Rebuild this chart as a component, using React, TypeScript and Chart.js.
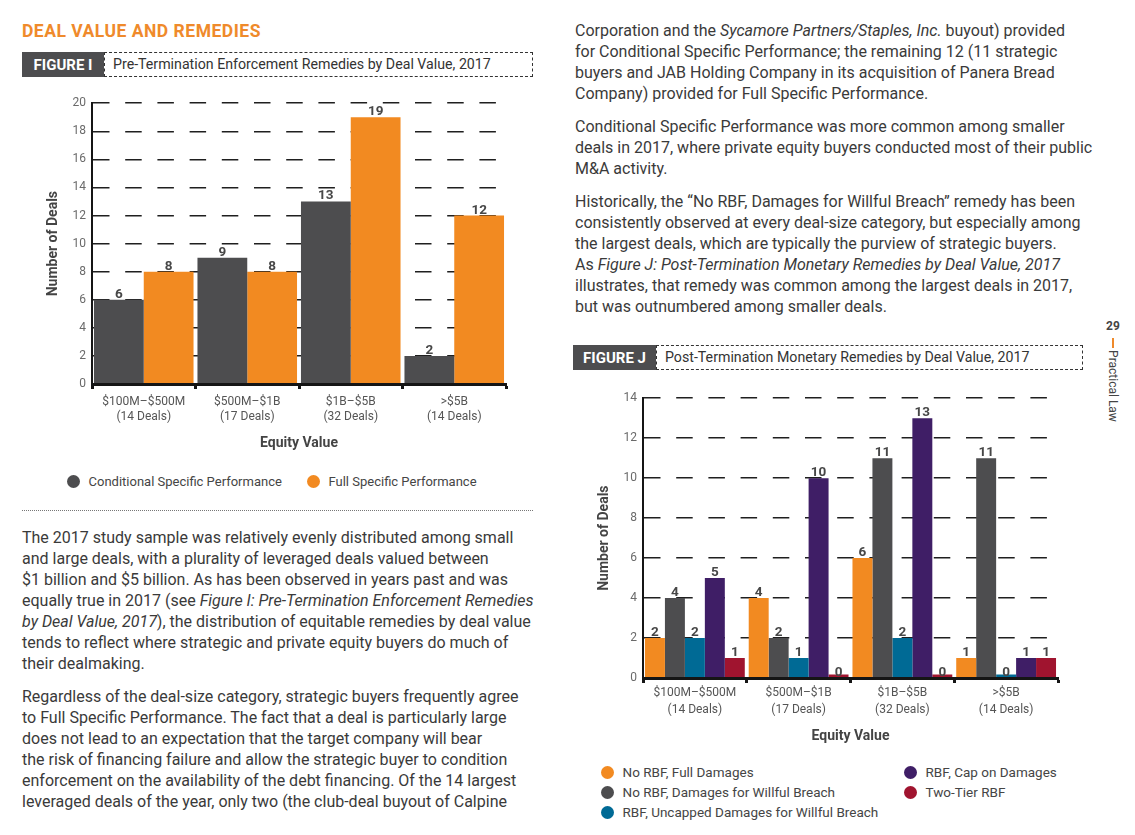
import React, { useEffect, useRef } from "react";
import { Chart, registerables } from "chart.js";

Chart.register(...registerables);

const FONT = "Roboto, 'Open Sans', sans-serif";

// ---------- DATA ----------
const figICategories = [
  ["$100M–$500M", "(14 Deals)"],
  ["$500M–$1B", "(17 Deals)"],
  ["$1B–$5B", "(32 Deals)"],
  [">$5B", "(14 Deals)"],
];
const figISeriesLabels = ["Conditional Specific Performance", "Full Specific Performance"];
const figIColors = ["#4d4d4f", "#f28a21"];
const figIConditional = [6, 9, 13, 2];
const figIFull = [8, 8, 19, 12];
const figIYMax = 20;
const figIYStep = 2;

const figJCategories = [
  ["$100M–$500M", "(14 Deals)"],
  ["$500M–$1B", "(17 Deals)"],
  ["$1B–$5B", "(32 Deals)"],
  [">$5B", "(14 Deals)"],
];
const figJSeriesLabels = [
  "No RBF, Full Damages",
  "No RBF, Damages for Willful Breach",
  "RBF, Uncapped Damages for Willful Breach",
  "RBF, Cap on Damages",
  "Two-Tier RBF",
];
const figJColors = ["#f28a21", "#4d4d4f", "#006a95", "#3f1e66", "#a0142f"];
const figJNoRbfFull = [2, 4, 6, 1];
const figJNoRbfWillful = [4, 2, 11, 11];
const figJRbfUncapped = [2, 1, 2, 0];
const figJRbfCap = [5, 10, 13, 1];
const figJTwoTier = [1, 0, 0, 1];
const figJYMax = 14;
const figJYStep = 2;

// ---------- CHART HELPERS ----------
const valueLabels = {
  id: "valueLabels",
  afterDatasetsDraw(chart: any) {
    const ctx = chart.ctx;
    const y = chart.scales.y;
    ctx.save();
    ctx.font = `bold 13.5px ${FONT}`;
    ctx.fillStyle = "#474747";
    ctx.textAlign = "center";
    ctx.textBaseline = "alphabetic";
    chart.data.datasets.forEach((ds: any, i: number) => {
      const meta = chart.getDatasetMeta(i);
      meta.data.forEach((el: any, j: number) => {
        const v = ds.data[j];
        ctx.fillText(String(v), el.x, y.getPixelForValue(v) - 2);
      });
    });
    ctx.restore();
  },
};

function makeConfig(
  categories: string[][],
  labels: string[],
  colors: string[],
  series: number[][],
  yMax: number,
  yStep: number,
  geom: { top: number; right: number; xHeight: number; tickPad: number; tickLH: number; titlePad: number }
): any {
  return {
    type: "bar",
    data: {
      labels: categories,
      datasets: series.map((d, i) => ({
        label: labels[i],
        data: d,
        backgroundColor: colors[i],
        borderWidth: 0,
        categoryPercentage: 0.962,
        barPercentage: 1,
        minBarLength: 3.5,
      })),
    },
    options: {
      responsive: false,
      animation: false,
      devicePixelRatio: 1,
      layout: { padding: { top: geom.top, right: geom.right, bottom: 0, left: 0 } },
      plugins: {
        legend: { display: false },
        tooltip: { enabled: false },
        title: { display: false },
      },
      scales: {
        x: {
          afterFit: (s: any) => {
            s.height = geom.xHeight;
          },
          border: { display: true, color: "#151515", width: 3, z: 1 },
          grid: {
            display: true,
            drawOnChartArea: false,
            drawTicks: true,
            tickLength: 5,
            tickWidth: 3,
            tickColor: "#151515",
            color: "#151515",
            offset: true,
          },
          ticks: {
            font: { family: FONT, size: 12, lineHeight: geom.tickLH },
            color: "#555555",
            padding: geom.tickPad,
            maxRotation: 0,
            autoSkip: false,
          },
          title: {
            display: true,
            text: "Equity Value",
            color: "#444444",
            font: { family: FONT, size: 14, weight: "bold" },
            padding: { top: 0, bottom: geom.titlePad },
          },
        },
        y: {
          min: 0,
          max: yMax,
          afterFit: (s: any) => {
            s.width = 70;
          },
          border: { display: true, color: "#151515", width: 2, dash: [16.5, 15.7] },
          grid: {
            color: "#1f1f1f",
            lineWidth: 1.5,
            drawTicks: false,
          },
          ticks: {
            stepSize: yStep,
            font: { family: FONT, size: 12 },
            color: "#6a6a6a",
            padding: 6,
          },
          title: {
            display: true,
            text: "Number of Deals",
            color: "#444444",
            font: { family: FONT, size: 14, weight: "bold" },
            padding: { top: 23, bottom: 0 },
          },
        },
      },
    },
    plugins: [valueLabels],
  };
}

function ChartCanvas(props: { left: number; top: number; width: number; height: number; config: any }) {
  const ref = useRef<HTMLCanvasElement | null>(null);
  useEffect(() => {
    if (!ref.current) return;
    const chart = new Chart(ref.current, props.config);
    return () => chart.destroy();
  }, []);
  return (
    <canvas
      ref={ref}
      width={props.width}
      height={props.height}
      style={{ position: "absolute", left: props.left, top: props.top, width: props.width, height: props.height }}
    />
  );
}

// ---------- PAGE PIECES ----------
function FigureHeader(p: { x: number; y: number; label: string; labelW: number; title: string; titleW: number }) {
  return (
    <>
      <div
        style={{
          position: "absolute",
          left: p.x,
          top: p.y,
          width: p.labelW,
          height: 25,
          background: "#4d4d4f",
          color: "#fff",
          font: `bold 15px ${FONT}`,
          display: "flex",
          alignItems: "center",
          justifyContent: "center",
        }}
      >
        {p.label}
      </div>
      <div
        style={{
          position: "absolute",
          left: p.x + p.labelW,
          top: p.y,
          width: p.titleW,
          height: 25,
          boxSizing: "border-box",
          border: "1px dashed #333",
          color: "#333",
          font: `14.2px ${FONT}`,
          lineHeight: "23px",
          paddingLeft: 8,
          whiteSpace: "nowrap",
        }}
      >
        {p.title}
      </div>
    </>
  );
}

function LegendItem(p: { x: number; y: number; color: string; text: string; size: number }) {
  return (
    <div
      style={{
        position: "absolute",
        left: p.x - 6.5,
        top: p.y - 10,
        height: 20,
        display: "flex",
        alignItems: "center",
        whiteSpace: "nowrap",
        font: `${p.size}px ${FONT}`,
        color: "#454545",
      }}
    >
      <span
        style={{
          display: "inline-block",
          width: 13,
          height: 13,
          borderRadius: "50%",
          background: p.color,
          marginRight: 9,
        }}
      />
      {p.text}
    </div>
  );
}

type Line = { y: number; parts: (string | { i: string })[] };

const leftLines: Line[] = [
  { y: 539, parts: ["The 2017 study sample was relatively evenly distributed among small"] },
  { y: 560, parts: ["and large deals, with a plurality of leveraged deals valued between"] },
  { y: 581, parts: ["$1 billion and $5 billion. As has been observed in years past and was"] },
  { y: 602, parts: ["equally true in 2017 (see ", { i: "Figure I: Pre-Termination Enforcement Remedies" }] },
  { y: 623, parts: [{ i: "by Deal Value, 2017" }, "), the distribution of equitable remedies by deal value"] },
  { y: 644, parts: ["tends to reflect where strategic and private equity buyers do much of"] },
  { y: 665, parts: ["their dealmaking."] },
  { y: 698, parts: ["Regardless of the deal-size category, strategic buyers frequently agree"] },
  { y: 719, parts: ["to Full Specific Performance. The fact that a deal is particularly large"] },
  { y: 740, parts: ["does not lead to an expectation that the target company will bear"] },
  { y: 761, parts: ["the risk of financing failure and allow the strategic buyer to condition"] },
  { y: 782, parts: ["enforcement on the availability of the debt financing. Of the 14 largest"] },
  { y: 803, parts: ["leveraged deals of the year, only two (the club-deal buyout of Calpine"] },
];

const rightLines: Line[] = [
  { y: 32, parts: ["Corporation and the ", { i: "Sycamore Partners/Staples, Inc." }, " buyout) provided"] },
  { y: 53, parts: ["for Conditional Specific Performance; the remaining 12 (11 strategic"] },
  { y: 74, parts: ["buyers and JAB Holding Company in its acquisition of Panera Bread"] },
  { y: 95, parts: ["Company) provided for Full Specific Performance."] },
  { y: 128, parts: ["Conditional Specific Performance was more common among smaller"] },
  { y: 149, parts: ["deals in 2017, where private equity buyers conducted most of their public"] },
  { y: 170, parts: ["M&A activity."] },
  { y: 203, parts: ["Historically, the “No RBF, Damages for Willful Breach” remedy has been"] },
  { y: 224, parts: ["consistently observed at every deal-size category, but especially among"] },
  { y: 245, parts: ["the largest deals, which are typically the purview of strategic buyers."] },
  { y: 266, parts: ["As ", { i: "Figure J: Post-Termination Monetary Remedies by Deal Value, 2017" }] },
  { y: 287, parts: ["illustrates, that remedy was common among the largest deals in 2017,"] },
  { y: 308, parts: ["but was outnumbered among smaller deals."] },
];

function TextLines(p: { x: number; lines: Line[] }) {
  return (
    <>
      {p.lines.map((l, k) => (
        <div
          key={k}
          style={{
            position: "absolute",
            left: p.x,
            top: l.y - 11,
            height: 22,
            lineHeight: "22px",
            whiteSpace: "nowrap",
            font: `16px ${FONT}`,
            color: "#3a3a3a",
          }}
        >
          {l.parts.map((pt, j) => (typeof pt === "string" ? <span key={j}>{pt}</span> : <i key={j}>{pt.i}</i>))}
        </div>
      ))}
    </>
  );
}

export default function App() {
  const figIConfig = makeConfig(
    figICategories,
    figISeriesLabels,
    figIColors,
    [figIConditional, figIFull],
    figIYMax,
    figIYStep,
    { top: 13, right: 36, xHeight: 76, tickPad: 5, tickLH: 1.25, titlePad: 8 }
  );
  const figJConfig = makeConfig(
    figJCategories,
    figJSeriesLabels,
    figJColors,
    [figJNoRbfFull, figJNoRbfWillful, figJRbfUncapped, figJRbfCap, figJTwoTier],
    figJYMax,
    figJYStep,
    { top: 12, right: 25, xHeight: 77, tickPad: 2, tickLH: 1.4, titlePad: 10 }
  );

  const jLegendPos = [
    { x: 607, y: 772 },
    { x: 607, y: 792 },
    { x: 607, y: 812 },
    { x: 910, y: 772 },
    { x: 910, y: 792 },
  ];
  const iLegendPos = [
    { x: 73, y: 481 },
    { x: 313, y: 481 },
  ];

  return (
    <div
      style={{
        position: "absolute",
        left: 0,
        top: 0,
        width: 1135,
        height: 835,
        background: "#fff",
        overflow: "hidden",
        fontFamily: FONT,
      }}
    >
      <div
        style={{
          position: "absolute",
          left: 22,
          top: 20,
          font: `bold 17.5px ${FONT}`,
          letterSpacing: "0.5px",
          color: "#ef8a2b",
          whiteSpace: "nowrap",
          lineHeight: "22px",
        }}
      >
        DEAL VALUE AND REMEDIES
      </div>

      <FigureHeader
        x={22}
        y={52}
        label="FIGURE I"
        labelW={82}
        title="Pre-Termination Enforcement Remedies by Deal Value, 2017"
        titleW={429}
      />
      <ChartCanvas left={22} top={90} width={520} height={370} config={figIConfig} />
      {figISeriesLabels.map((t, i) => (
        <LegendItem key={i} x={iLegendPos[i].x} y={iLegendPos[i].y} color={figIColors[i]} text={t} size={13} />
      ))}

      <div style={{ position: "absolute", left: 22, top: 510, width: 511, borderTop: "1px dotted #777" }} />

      <TextLines x={22} lines={leftLines} />
      <TextLines x={575} lines={rightLines} />

      <FigureHeader
        x={573}
        y={345}
        label="FIGURE J"
        labelW={83}
        title="Post-Termination Monetary Remedies by Deal Value, 2017"
        titleW={427}
      />
      <ChartCanvas left={573} top={385} width={510} height={370} config={figJConfig} />
      {figJSeriesLabels.map((t, i) => (
        <LegendItem key={i} x={jLegendPos[i].x} y={jLegendPos[i].y} color={figJColors[i]} text={t} size={13.5} />
      ))}

      {/* side folio */}
      <div
        style={{
          position: "absolute",
          left: 1100,
          top: 319,
          width: 26,
          textAlign: "center",
          font: `bold 12px ${FONT}`,
          color: "#444",
        }}
      >
        29
      </div>
      <div style={{ position: "absolute", left: 1112, top: 338, width: 2, height: 10, background: "#ef8a2b" }} />
      <div
        style={{
          position: "absolute",
          left: 1113,
          top: 386,
          transform: "translate(-50%, -50%) rotate(90deg)",
          font: `12px ${FONT}`,
          color: "#444",
          whiteSpace: "nowrap",
        }}
      >
        Practical Law
      </div>
    </div>
  );
}
